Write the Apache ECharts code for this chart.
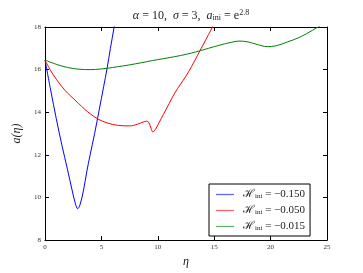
<!DOCTYPE html>
<html><head><meta charset="utf-8">
<script src="https://cdn.jsdelivr.net/npm/echarts@6/dist/echarts.min.js"></script>
<style>html,body{margin:0;padding:0;background:#fff}#c{width:363px;height:273px}</style>
</head><body><div id="c"></div>
<script>
// eta, a(eta) for each H_ini
const blueEta = [0, 0.5, 1.0, 1.5, 2.0, 2.4, 2.7, 2.9, 3.1, 3.4, 3.7, 4.0, 4.4, 4.8, 5.2, 5.5, 5.8, 6.13, 6.4];
const blueA   = [16.45, 15.05, 13.7, 12.45, 11.3, 10.35, 9.7, 9.47, 9.65, 10.3, 11.2, 12.0, 13.0, 14.1, 15.2, 16.05, 17.0, 18.0, 18.9];
const redEta = [0, 0.5, 1.0, 1.5, 2.0, 2.5, 3.0, 3.5, 4.0, 4.7, 5.5, 6.5, 7.5, 8.2, 8.7, 9.0, 9.2, 9.4, 9.55, 9.8, 10.1, 10.5, 11.0, 11.5, 12.0, 12.5, 13.0, 13.5, 14.0, 14.5, 14.9, 15.2];
const redA   = [16.45, 15.95, 15.55, 15.2, 14.9, 14.65, 14.4, 14.15, 13.93, 13.68, 13.5, 13.38, 13.36, 13.44, 13.54, 13.58, 13.52, 13.25, 13.08, 13.2, 13.5, 13.9, 14.4, 14.9, 15.3, 15.7, 16.15, 16.65, 17.15, 17.65, 18.05, 18.4];
const greenEta = [0, 1, 2, 3, 4, 5, 6, 7, 8, 9, 10, 11, 12, 13, 13.7, 14.5, 15.5, 16.5, 17.2, 18.0, 18.8, 19.7, 20.5, 21.5, 22.5, 23.2, 24.2, 24.6];
const greenA   = [16.45, 16.25, 16.1, 16.02, 16.0, 16.03, 16.1, 16.18, 16.27, 16.37, 16.47, 16.56, 16.66, 16.78, 16.88, 17.0, 17.15, 17.28, 17.34, 17.3, 17.18, 17.08, 17.12, 17.3, 17.5, 17.69, 18.0, 18.12];
const seriesNames = ['−0.150', '−0.050', '−0.015'];
const seriesColors = ['#0000ff', '#ff0000', '#008000'];
const xTicks = [0, 5, 10, 15, 20, 25];
const yTicks = [8, 10, 12, 14, 16, 18];

const zip = (xs, ys) => xs.map((x, i) => [x, ys[i]]);
const datasets = [zip(blueEta, blueA), zip(redEta, redA), zip(greenEta, greenA)];
const FONT = '"Liberation Serif", "DejaVu Serif", serif';

const chart = echarts.init(document.getElementById('c'), null, {renderer: 'canvas'});
const tickLbl = {fontFamily: FONT, fontSize: 7, color: '#333'};
const baseX = {type: 'value', min: xTicks[0], max: xTicks[xTicks.length-1], interval: 5,
  axisLine: {show: true, onZero: false, lineStyle: {color: '#000', width: 1}},
  axisTick: {show: true, inside: true, length: 4, lineStyle: {color: '#000'}},
  splitLine: {show: false}};
const baseY = {type: 'value', min: yTicks[0], max: yTicks[yTicks.length-1], interval: 2,
  axisLine: {show: true, onZero: false, lineStyle: {color: '#000', width: 1}},
  axisTick: {show: true, inside: true, length: 4, lineStyle: {color: '#000'}},
  splitLine: {show: false}};

chart.setOption({
  animation: false,
  backgroundColor: '#fff',
  title: {
    text: '{i|α} = 10,  {i|σ} = 3,  {i|a}{s|ini} = e{p|2.8}',
    left: 186, top: 4, textAlign: 'center',
    textStyle: {fontFamily: FONT, fontSize: 12, fontWeight: 'normal', color: '#222',
      rich: {
        i: {fontFamily: FONT, fontSize: 12, fontStyle: 'italic', color: '#222'},
        s: {fontFamily: FONT, fontSize: 8, verticalAlign: 'bottom', padding: [5, 0, 0, 0], color: '#222'},
        p: {fontFamily: FONT, fontSize: 8, verticalAlign: 'top', padding: [0, 0, 5, 0], color: '#222'}
      }}
  },
  grid: {left: 45, right: 36, top: 27, bottom: 28, containLabel: false},
  xAxis: [
    Object.assign({}, baseX, {position: 'bottom', name: 'η', nameLocation: 'middle', nameGap: 14,
      nameTextStyle: {fontFamily: FONT, fontSize: 12, fontStyle: 'italic', color: '#222'},
      axisLabel: Object.assign({margin: 4}, tickLbl)}),
    Object.assign({}, baseX, {position: 'top', axisLabel: {show: false}})
  ],
  yAxis: [
    Object.assign({}, baseY, {position: 'left', name: 'a(η)', nameLocation: 'middle', nameGap: 22,
      nameTextStyle: {fontFamily: FONT, fontSize: 12, fontStyle: 'italic', color: '#222'},
      axisLabel: Object.assign({margin: 4}, tickLbl)}),
    Object.assign({}, baseY, {position: 'right', axisLabel: {show: false}})
  ],
  legend: {
    orient: 'vertical', left: 209, top: 184,
    itemWidth: 18, itemHeight: 1.3, itemGap: 5,
    padding: [5, 5, 4, 7],
    borderColor: '#000', borderWidth: 1, backgroundColor: '#fff', borderRadius: 0,
    icon: 'rect',
    data: seriesNames.map((n, i) => ({name: n, itemStyle: {color: seriesColors[i], opacity: 0.6}})),
    formatter: n => '{h|ℋ}{s|ini} = ' + n,
    textStyle: {fontFamily: FONT, fontSize: 11, color: '#222', padding: [0, 0, 0, 4],
      rich: {
        h: {fontFamily: FONT, fontSize: 11, color: '#222'},
        s: {fontFamily: FONT, fontSize: 7, verticalAlign: 'bottom', padding: [4, 0, 0, 0], color: '#222'}
      }}
  },
  series: datasets.map((d, i) => ({
    name: seriesNames[i], type: 'line', data: d, smooth: 0.35, symbol: 'none', showSymbol: false, clip: true,
    lineStyle: {color: seriesColors[i], width: 1}, itemStyle: {color: seriesColors[i]}
  }))
});
</script></body></html>
